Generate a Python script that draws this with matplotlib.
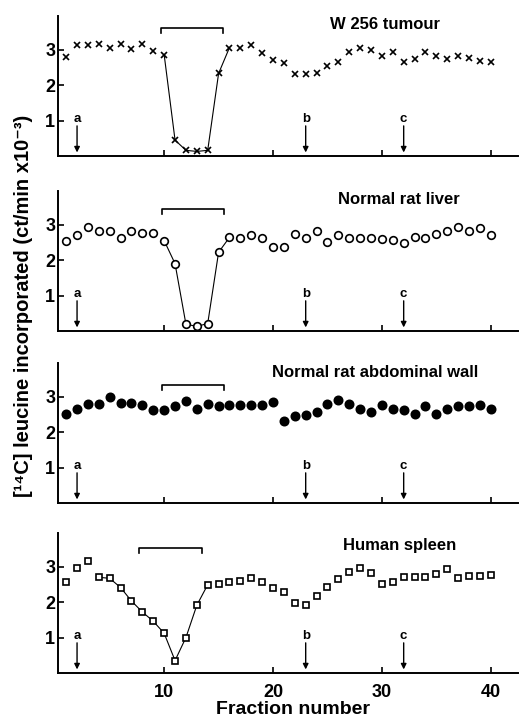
import matplotlib
matplotlib.use('Agg')
import matplotlib.pyplot as plt

plt.rcParams['font.family'] = ['Liberation Sans', 'DejaVu Sans']
plt.rcParams['font.weight'] = 'bold'

fractions = list(range(1, 41))

tumour = [2.80, 3.13, 3.13, 3.17, 3.06, 3.15, 3.02, 3.15, 2.97, 2.86,
          0.45, 0.16, 0.13, 0.16, 2.33, 3.06, 3.05, 3.14, 2.91, 2.70,
          2.62, 2.31, 2.31, 2.35, 2.55, 2.64, 2.93, 3.06, 3.00, 2.83,
          2.93, 2.65, 2.74, 2.94, 2.83, 2.74, 2.83, 2.77, 2.68, 2.65]

liver = [2.53, 2.71, 2.92, 2.81, 2.83, 2.62, 2.81, 2.76, 2.75, 2.55,
         1.90, 0.19, 0.13, 0.21, 2.22, 2.64, 2.63, 2.70, 2.62, 2.36,
         2.36, 2.73, 2.61, 2.81, 2.52, 2.70, 2.61, 2.61, 2.62, 2.59,
         2.58, 2.49, 2.66, 2.63, 2.73, 2.82, 2.94, 2.81, 2.91, 2.70]

abdominal = [2.50, 2.66, 2.79, 2.79, 2.99, 2.82, 2.83, 2.77, 2.62, 2.62,
             2.73, 2.87, 2.64, 2.78, 2.75, 2.77, 2.77, 2.77, 2.77, 2.85,
             2.31, 2.46, 2.48, 2.56, 2.78, 2.90, 2.79, 2.66, 2.57, 2.76,
             2.65, 2.61, 2.50, 2.73, 2.50, 2.66, 2.74, 2.74, 2.76, 2.64]

spleen = [2.56, 2.96, 3.17, 2.70, 2.67, 2.41, 2.03, 1.72, 1.46, 1.12,
          0.35, 1.00, 1.91, 2.49, 2.50, 2.57, 2.59, 2.67, 2.56, 2.40,
          2.28, 1.98, 1.91, 2.18, 2.42, 2.65, 2.86, 2.95, 2.81, 2.50,
          2.58, 2.70, 2.71, 2.72, 2.78, 2.92, 2.69, 2.73, 2.73, 2.76]

series = [tumour, liver, abdominal, spleen]
titles = ['W 256 tumour', 'Normal rat liver', 'Normal rat abdominal wall', 'Human spleen']
markers = ['x', 'o', 'o', 's']
fills = ['black', 'white', 'black', 'white']
sizes = [4.5, 5.5, 6.0, 5.0]
# fractions joined by a line (first, last)
joined = [(10, 16), (10, 16), None, (4, 14)]
# bracket: start, end, height
brackets = [(9.7, 15.4, 3.6), (9.8, 15.5, 3.45), (9.8, 15.5, 3.32), (7.7, 13.5, 3.52)]
title_pos = [(30.3, 3.72), (31.6, 3.72), (29.4, 3.68), (31.6, 3.6)]
arrow_x = [2, 23, 32]
arrow_lab = ['a', 'b', 'c']

fig = plt.figure(figsize=(5.19, 7.17), dpi=100)
bottoms = [0.7824, 0.5384, 0.2985, 0.0614]

for i in range(4):
    ax = fig.add_axes([58 / 519, bottoms[i], 460 / 519, 140 / 717])
    data = series[i]
    ax.plot(fractions, data, linestyle='none', marker=markers[i], ms=sizes[i],
            mfc=fills[i], mec='black', mew=1.2, color='black')
    if joined[i]:
        a, b = joined[i]
        ax.plot(fractions[a - 1:b], data[a - 1:b], color='black', lw=0.8, zorder=1)
    x0, x1, h = brackets[i]
    ax.plot([x0, x0, x1, x1], [h - 0.14, h, h, h - 0.14], color='black', lw=1.2)
    tx, ty = title_pos[i]
    ax.text(tx, ty, titles[i], ha='center', va='center', fontsize=12, fontweight='bold')
    for x, lab in zip(arrow_x, arrow_lab):
        ax.text(x, 1.05, lab, ha='center', va='center', fontsize=9.5, fontweight='bold')
        ax.annotate('', xy=(x, 0.1), xytext=(x, 0.85),
                    arrowprops=dict(arrowstyle='-|>', color='black', lw=1.0,
                                    mutation_scale=8, shrinkA=0, shrinkB=0))

    ax.set_xlim(0.25, 42.5)
    ax.set_ylim(0, 3.95)
    for s in ['top', 'right']:
        ax.spines[s].set_visible(False)
    for s in ['left', 'bottom']:
        ax.spines[s].set_linewidth(1.4)
    ax.set_yticks([1, 2, 3])
    ax.set_yticklabels(['1', '2', '3'], fontsize=13, fontweight='bold')
    ax.set_xticks([10, 20, 30, 40])
    ax.tick_params(axis='both', direction='in', length=4, width=1.2)
    ax.tick_params(axis='y', pad=2)
    if i == 3:
        ax.set_xticklabels(['10', '20', '30', '40'], fontsize=13, fontweight='bold')
        ax.tick_params(axis='x', pad=8)
    else:
        ax.set_xticklabels([])

fig.text(293 / 519, 1 - 710 / 717, 'Fraction number', ha='center', va='center',
         fontsize=14, fontweight='bold')
fig.text(24 / 519, 1 - 306 / 717, '[¹⁴C] leucine incorporated (ct/min x10⁻³)',
         rotation=90, ha='center', va='center', fontsize=14.5, fontweight='bold')

fig.savefig('out.png', dpi=100)
